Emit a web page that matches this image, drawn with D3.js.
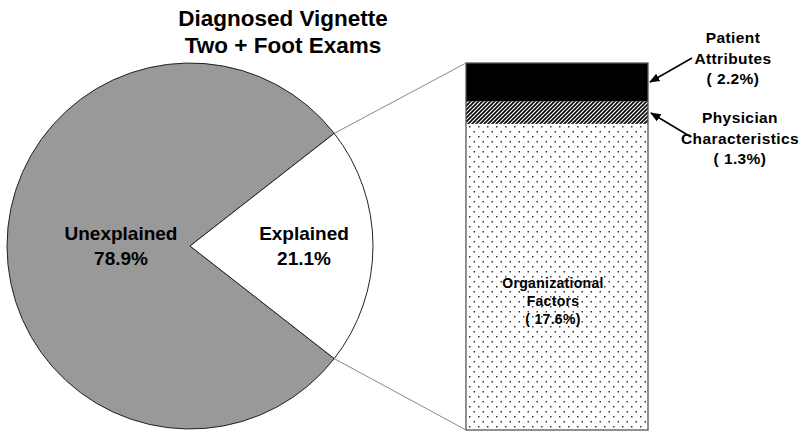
<!DOCTYPE html>
<html><head><meta charset="utf-8">
<script src="https://cdn.jsdelivr.net/npm/d3@7"></script>
<style>body{margin:0;background:#fff}svg{display:block}text{font-family:"Liberation Sans",Arial,sans-serif;font-weight:bold;fill:#000}</style>
</head><body><svg id="c" width="800" height="435"></svg>
<script>
const titleLines = ["Diagnosed Vignette", "Two + Foot Exams"];
const pieCategories = ["Unexplained", "Explained"];
const pieValues = [78.9, 21.1];
const barCategories = ["Organizational Factors", "Physician Characteristics", "Patient Attributes"];
const barValues = [17.6, 1.3, 2.2];

const svg = d3.select("#c");
const defs = svg.append("defs");
const hatch = defs.append("pattern").attr("id","hatch").attr("patternUnits","userSpaceOnUse").attr("width",4).attr("height",4);
hatch.append("rect").attr("width",4).attr("height",4).attr("fill","#fff");
hatch.append("path").attr("d","M-1,1 L1,-1 M0,4 L4,0 M3,5 L5,3").attr("stroke","#000").attr("stroke-width",1.6);
const dots = defs.append("pattern").attr("id","dots").attr("patternUnits","userSpaceOnUse").attr("width",9).attr("height",10).attr("x",467).attr("y",124);
dots.append("rect").attr("width",9).attr("height",10).attr("fill","#fff");
dots.append("rect").attr("x",2).attr("y",2).attr("width",1.5).attr("height",1.5).attr("fill","#333");
dots.append("rect").attr("x",6.5).attr("y",7).attr("width",1.5).attr("height",1.5).attr("fill","#333");

// title
svg.append("g").selectAll("text").data(titleLines).join("text")
  .attr("x",283).attr("y",(d,i)=>26+i*27).attr("text-anchor","middle").attr("font-size",22.5).text(d=>d);

// pie
const cx=190, cy=246, r=183;
const total = d3.sum(pieValues);
const expAngle = pieValues[1]/total*2*Math.PI;
const pie = d3.pie().sort(null).startAngle(Math.PI/2+expAngle/2).endAngle(Math.PI/2+expAngle/2+2*Math.PI);
const arcs = pie(pieValues);
const arc = d3.arc().innerRadius(0).outerRadius(r);
const pg = svg.append("g").attr("transform",`translate(${cx},${cy})`);
pg.selectAll("path").data(arcs).join("path").attr("d",arc)
  .attr("fill",(d,i)=>i===0?"#999999":"#ffffff").attr("stroke","#222").attr("stroke-width",1);

// pie labels
const labelPos = [[121,240],[304,240]];
pieCategories.forEach((c,i)=>{
  const t = svg.append("text").attr("text-anchor","middle").attr("font-size",19);
  t.append("tspan").attr("x",labelPos[i][0]).attr("y",labelPos[i][1]).text(c);
  t.append("tspan").attr("x",labelPos[i][0]).attr("y",labelPos[i][1]+25).text(pieValues[i].toFixed(1)+"%");
});

// bar
const barX0=466, barX1=648;
const y = d3.scaleLinear().domain([0, d3.sum(barValues)]).range([430, 63]);
let cum=0;
const stack = barValues.map((v,i)=>{const s={cat:barCategories[i],v,y0:cum,y1:cum+v};cum+=v;return s;});
const fills = ["url(#dots)","url(#hatch)","#000"];
svg.append("g").selectAll("rect").data(stack).join("rect")
  .attr("x",barX0).attr("width",barX1-barX0)
  .attr("y",d=>y(d.y1)).attr("height",d=>y(d.y0)-y(d.y1))
  .attr("fill",(d,i)=>fills[i]);
svg.append("rect").attr("x",barX0).attr("y",y(cum)).attr("width",barX1-barX0).attr("height",y(0)-y(cum))
  .attr("fill","none").attr("stroke","#555").attr("stroke-width",1.3);

// connector lines from pie slice edges to bar corners
const ea = arcs[1];
const pt = a => [cx + r*Math.sin(a), cy - r*Math.cos(a)];
const pTop = pt(ea.startAngle), pBot = pt(ea.endAngle);
svg.append("line").attr("x1",pTop[0]).attr("y1",pTop[1]).attr("x2",barX0).attr("y2",y(cum)).attr("stroke","#888").attr("stroke-width",1);
svg.append("line").attr("x1",pBot[0]).attr("y1",pBot[1]).attr("x2",barX0).attr("y2",y(0)).attr("stroke","#888").attr("stroke-width",1);

// org label inside
const orgLines = ["Organizational","Factors","( "+barValues[0]+"%)"];
svg.append("g").selectAll("text").data(orgLines).join("text")
  .attr("x",553).attr("y",(d,i)=>288+i*18).attr("text-anchor","middle").attr("font-size",14)
  .attr("letter-spacing",0.3).text(d=>d);

// external labels with arrows
defs.append("marker").attr("id","arr").attr("viewBox","0 0 10 10").attr("refX",9).attr("refY",5)
  .attr("markerWidth",7).attr("markerHeight",7).attr("orient","auto")
  .append("path").attr("d","M0,1 L10,5 L0,9 z").attr("fill","#000");
const ext = [
  {lines:["Patient","Attributes","( "+barValues[2]+"%)"], x:733, y:43, from:[692,58], to:[650,82]},
  {lines:["Physician","Characteristics","( "+barValues[1]+"%)"], x:740, y:123, from:[691,137], to:[651,113]}
];
ext.forEach(e=>{
  svg.append("line").attr("x1",e.from[0]).attr("y1",e.from[1]).attr("x2",e.to[0]).attr("y2",e.to[1])
    .attr("stroke","#000").attr("stroke-width",1.5).attr("marker-end","url(#arr)");
  svg.append("g").selectAll("text").data(e.lines).join("text")
    .attr("x",e.x).attr("y",(d,i)=>e.y+i*20.5).attr("text-anchor","middle").attr("font-size",15.5)
    .attr("letter-spacing",0.4).text(d=>d);
});
</script></body></html>
